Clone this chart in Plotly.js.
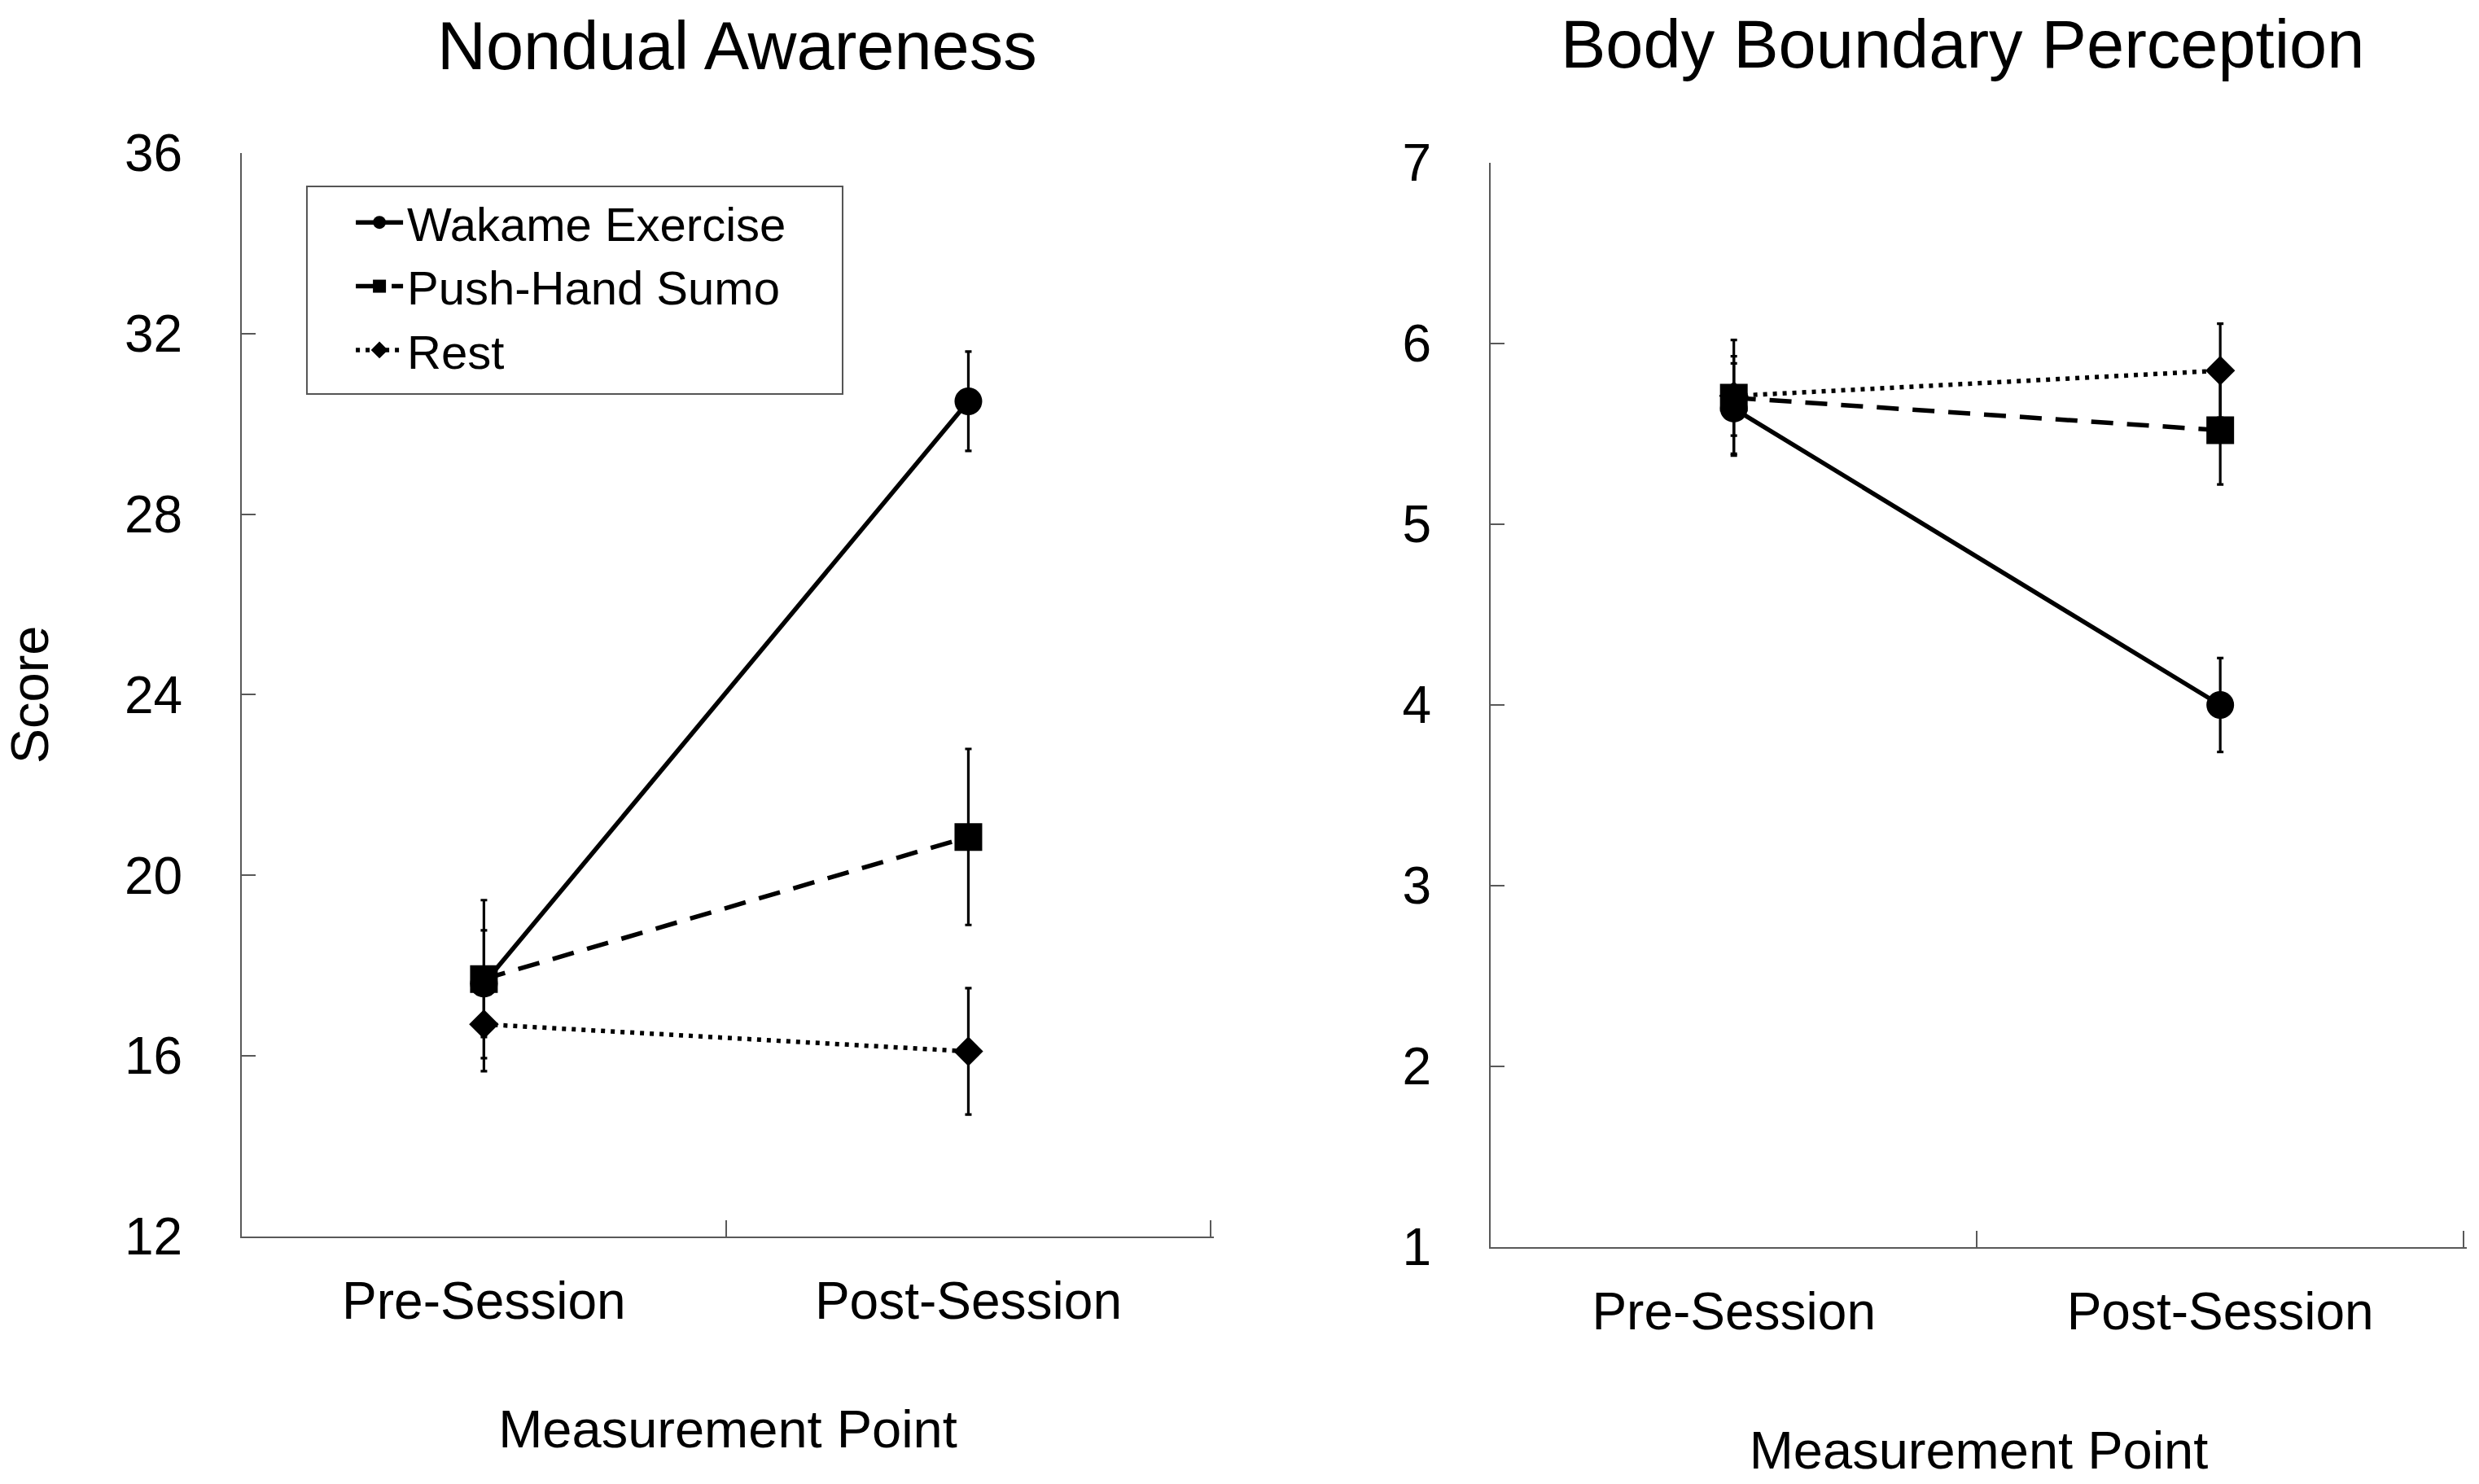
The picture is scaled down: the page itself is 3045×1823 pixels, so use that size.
<!DOCTYPE html>
<html>
<head>
<meta charset="utf-8">
<script src="https://cdn.plot.ly/plotly-3.0.1.min.js"></script>
<style>html,body{margin:0;padding:0;background:#fff;}#chart{width:3045px;height:1823px;}</style>
</head>
<body>
<div id="chart"></div>
<script>
const categories = ['Pre-Session', 'Post-Session'];
const seriesNames = ['Wakame Exercise', 'Push-Hand Sumo', 'Rest'];
const panelTitles = ['Nondual Awareness', 'Body Boundary Perception'];

const nondualWakame = [17.6, 30.5];
const nondualWakameErr = [1.18, 1.1];
const nondualPush = [17.7, 20.85];
const nondualPushErr = [1.75, 1.95];
const nondualRest = [16.7, 16.1];
const nondualRestErr = [1.04, 1.4];

const bodyWakame = [5.64, 4.0];
const bodyWakameErr = [0.25, 0.26];
const bodyPush = [5.70, 5.52];
const bodyPushErr = [0.32, 0.30];
const bodyRest = [5.71, 5.85];
const bodyRestErr = [0.22, 0.26];

const FONT = 'Liberation Sans, Arial, sans-serif';
const AXIS_COLOR = '#595959';

const styles = [
  {dash: 'solid', symbol: 'circle', size: 34},
  {dash: '27px,17px', symbol: 'square', size: 34},
  {dash: '5px,7px', symbol: 'diamond', size: 28}
];

function makeTrace(name, values, errs, style, xa, ya, showlegend) {
  return {
    type: 'scatter', mode: 'lines+markers', name: name,
    x: categories, y: values,
    xaxis: xa, yaxis: ya, showlegend: showlegend, legendgroup: name,
    line: {color: '#000', width: 5.5, dash: style.dash},
    marker: {color: '#000', symbol: style.symbol, size: style.size},
    error_y: {type: 'data', array: errs, visible: true, color: '#000', thickness: 3.2, width: 4},
    cliponaxis: false
  };
}

const data = [
  makeTrace(seriesNames[0], nondualWakame, nondualWakameErr, styles[0], 'x', 'y', true),
  makeTrace(seriesNames[1], nondualPush, nondualPushErr, styles[1], 'x', 'y', true),
  makeTrace(seriesNames[2], nondualRest, nondualRestErr, styles[2], 'x', 'y', true),
  makeTrace(seriesNames[0], bodyWakame, bodyWakameErr, styles[0], 'x2', 'y2', false),
  makeTrace(seriesNames[1], bodyPush, bodyPushErr, styles[1], 'x2', 'y2', false),
  makeTrace(seriesNames[2], bodyRest, bodyRestErr, styles[2], 'x2', 'y2', false)
];

function xAxis(domain, anchor, standoff) {
  return {
    domain: domain, anchor: anchor, type: 'category', range: [-0.5, 1.507],
    showline: true, linecolor: AXIS_COLOR, linewidth: 2,
    ticks: 'inside', tickson: 'boundaries', ticklen: 20, tickwidth: 2, tickcolor: AXIS_COLOR,
    showgrid: false, zeroline: false,
    tickfont: {family: FONT, size: 64, color: '#000'},
    ticklabelstandoff: 22,
    title: {text: 'Measurement Point', font: {family: FONT, size: 65, color: '#000'}, standoff: standoff}
  };
}
function yAxis(domain, anchor, range, dtick, title) {
  const ax = {
    domain: domain, anchor: anchor, range: range, dtick: dtick, tick0: range[0],
    showline: true, linecolor: AXIS_COLOR, linewidth: 2,
    ticks: 'inside', ticklen: 17, tickwidth: 2, tickcolor: AXIS_COLOR,
    showgrid: false, zeroline: false,
    tickfont: {family: FONT, size: 64, color: '#000'},
    ticklabelstandoff: 58
  };
  if (title) ax.title = {text: title, font: {family: FONT, size: 65, color: '#000'}, standoff: 74};
  return ax;
}

const layout = {
  width: 3045, height: 1823,
  margin: {l: 0, r: 0, t: 0, b: 0, autoexpand: false},
  paper_bgcolor: '#fff', plot_bgcolor: '#fff',
  font: {family: FONT, color: '#000'},
  xaxis: xAxis([0.0975, 0.4897], 'y', 100),
  yaxis: yAxis([0.1668, 0.8969], 'x', [12, 36], 4, 'Score'),
  xaxis2: xAxis([0.6013, 0.9951], 'y2', 113),
  yaxis2: yAxis([0.1596, 0.8903], 'x2', [1, 7], 1, null),
  showlegend: true,
  legend: {
    x: 0.1419, y: 0.8744, xanchor: 'left', yanchor: 'top',
    bgcolor: 'rgba(0,0,0,0)', borderwidth: 0,
    font: {family: FONT, size: 58, color: '#000'},
    itemwidth: 58, tracegroupgap: 0
  },
  shapes: [{
    type: 'rect', xref: 'paper', yref: 'paper',
    x0: 0.1238, x1: 0.3399, y0: 0.7345, y1: 0.8744,
    line: {color: '#555', width: 2}, fillcolor: 'rgba(0,0,0,0)', layer: 'below'
  }],
  annotations: [
    {text: panelTitles[0], xref: 'paper', yref: 'paper', x: 905 / 3045, y: 1 - 56 / 1823,
     xanchor: 'center', yanchor: 'middle', showarrow: false, font: {family: FONT, size: 83, color: '#000'}},
    {text: panelTitles[1], xref: 'paper', yref: 'paper', x: 2410 / 3045, y: 1 - 54 / 1823,
     xanchor: 'center', yanchor: 'middle', showarrow: false, font: {family: FONT, size: 83, color: '#000'}}
  ]
};

Plotly.newPlot('chart', data, layout, {displayModeBar: false, staticPlot: true});
</script>
</body>
</html>
